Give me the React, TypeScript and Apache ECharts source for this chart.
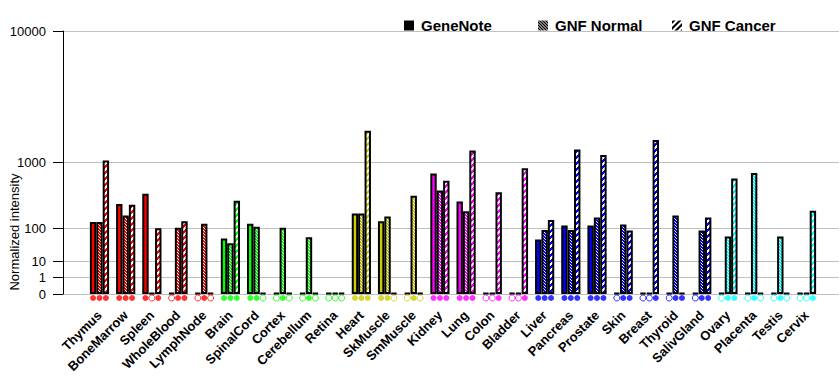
import React, { useEffect, useRef } from "react";
import * as echarts from "echarts";

const categories = [
  "Thymus", "BoneMarrow", "Spleen", "WholeBlood", "LymphNode",
  "Brain", "SpinalCord", "Cortex", "Cerebellum", "Retina",
  "Heart", "SkMuscle", "SmMuscle",
  "Kidney", "Lung", "Colon", "Bladder",
  "Liver", "Pancreas", "Prostate", "Skin", "Breast", "Thyroid", "SalivGland",
  "Ovary", "Placenta", "Testis", "Cervix",
];
// tissue group of each category (index into groupColors)
const categoryGroup = [0, 0, 0, 0, 0, 1, 1, 1, 1, 1, 2, 2, 2, 3, 3, 3, 3, 4, 4, 4, 4, 4, 4, 4, 5, 5, 5, 5];
const groupColors = ["#FF0000", "#00FF00", "#CCCC00", "#FF00FF", "#0000FF", "#00FFFF"];

const geneNote = [135, 285, 405, 0, 0, 57, 125, 0, 0, 0, 195, 140, 0, 750, 310, 0, 0, 54, 115, 115, 0, 0, 0, 0, 0, 0, 0, 0];
const gnfNormal = [135, 180, 0, 103, 125, 42, 108, 103, 61, 0, 195, 173, 380, 450, 215, 0, 0, 91, 91, 166, 120, 0, 180, 89, 64, 760, 64, 0];
const gnfCancer = [1050, 275, 100, 140, 0, 320, 0, 0, 0, 0, 2050, 0, 0, 610, 1340, 425, 860, 148, 1370, 1200, 89, 1690, 0, 166, 650, 0, 0, 220];

// presence markers under the bars (1 = filled, 0 = open)
const geneNoteMark = [1, 1, 1, 0, 0, 1, 1, 0, 0, 0, 1, 1, 0, 1, 1, 0, 0, 1, 1, 1, 0, 0, 0, 0, 0, 0, 0, 0];
const gnfNormalMark = [1, 1, 0, 1, 1, 1, 1, 1, 1, 0, 1, 1, 1, 1, 1, 0, 0, 1, 1, 1, 1, 0, 1, 1, 1, 1, 1, 0];
const gnfCancerMark = [1, 1, 1, 1, 0, 1, 0, 0, 0, 0, 1, 0, 0, 1, 1, 1, 1, 1, 1, 1, 1, 1, 1, 1, 1, 0, 0, 1];

const seriesNames = ["GeneNote", "GNF Normal", "GNF Cancer"];
const tickValues = [0, 1, 10, 100, 1000, 10000];
const tickLabels = ["0", "1", "10", "100", "1000", "10000"];

const tf = (v: number) => (v <= 0 ? 0 : Math.pow(v, Math.log10(2)));

const patternCache: Record<string, any> = {};
function makeFill(color: string, kind: number): any {
  if (kind === 0) return color;
  const key = color + kind;
  if (patternCache[key]) return patternCache[key];
  const size = kind === 1 ? 3 : 6;
  const c = document.createElement("canvas");
  c.width = size;
  c.height = size;
  const ctx = c.getContext("2d")!;
  ctx.fillStyle = "#FFFFFF";
  ctx.fillRect(0, 0, size, size);
  ctx.fillStyle = color;
  for (let x = 0; x < size; x++) {
    for (let y = 0; y < size; y++) {
      let on: boolean;
      if (kind === 1) on = (x - y + size) % size !== 0;
      else on = (x + y) % size < 3;
      if (on) ctx.fillRect(x, y, 1, 1);
    }
  }
  const p = { image: c, repeat: "repeat" };
  patternCache[key] = p;
  return p;
}

export default function App() {
  const ref = useRef<HTMLDivElement>(null);
  useEffect(() => {
    if (!ref.current) return;
    const chart = echarts.init(ref.current, null, { renderer: "svg" });
    const customValues = tickValues.map(tf);
    const valuesBySeries = [geneNote, gnfNormal, gnfCancer];
    const marksBySeries = [geneNoteMark, gnfNormalMark, gnfCancerMark];
    const barW = 6.4;
    const offsets = [-barW, 0, barW];
    const font = "Liberation Sans, Arial, sans-serif";

    const barSeries = valuesBySeries.map((vals, s) => ({
      name: seriesNames[s],
      type: "bar",
      xAxisIndex: 1,
      yAxisIndex: 1,
      barWidth: barW,
      barGap: "0%",
      barMinHeight: 1,
      itemStyle: { color: makeFill("#000000", s), borderColor: "#000", borderWidth: 2 },
      data: vals.map((v, i) => ({
        value: tf(v),
        itemStyle: { color: makeFill(groupColors[categoryGroup[i]], s), borderColor: "#000", borderWidth: 2 },
      })),
    }));

    const markSeries = marksBySeries.map((marks, s) => ({
      name: "mark" + s,
      type: "scatter",
      xAxisIndex: 1,
      yAxisIndex: 1,
      clip: false,
      symbol: "circle",
      symbolSize: 6,
      symbolOffset: [offsets[s], 4],
      silent: true,
      data: marks.map((m, i) => {
        const col = groupColors[categoryGroup[i]];
        return {
          value: [i, 0],
          itemStyle: m
            ? { color: col, borderWidth: 0 }
            : { color: "#FFFFFF", borderColor: col, borderWidth: 1 },
        };
      }),
    }));

    const legendLefts = [399, 533, 667];
    const legends = seriesNames.map((n, k) => ({
      data: [n],
      left: legendLefts[k],
      top: 13,
      itemWidth: 10,
      itemHeight: 10,
      icon: "rect",
      itemStyle: { borderWidth: 0 },
      textStyle: { fontFamily: font, fontSize: 15, fontWeight: "bold", color: "#000", padding: [0, 0, 0, 2] },
    }));

    chart.setOption({
      animation: false,
      backgroundColor: "#FFFFFF",
      legend: legends,
      grid: [
        { left: 63, top: 31, width: 776, height: 263 },
        { left: 86.4, top: 31, width: 733.2, height: 263 },
      ],
      xAxis: [
        { type: "value", gridIndex: 0, show: false, min: 0, max: 1 },
        {
          type: "category",
          gridIndex: 1,
          data: categories,
          axisLine: { show: false },
          axisTick: { show: false },
          axisLabel: {
            interval: 0,
            rotate: 45,
            margin: 19,
            fontFamily: font,
            fontSize: 13,
            fontWeight: "bold",
            color: "#000",
          },
        },
      ],
      yAxis: [
        {
          type: "value",
          gridIndex: 0,
          min: 0,
          max: customValues[customValues.length - 1],
          axisLine: { show: true, lineStyle: { color: "#000", width: 1 } },
          axisTick: { show: true, length: 10, customValues, lineStyle: { color: "#000" } },
          axisLabel: {
            customValues,
            margin: 17,
            fontFamily: font,
            fontSize: 13,
            color: "#000",
            formatter: (val: number) => {
              let best = 0;
              for (let k = 0; k < customValues.length; k++) {
                if (Math.abs(customValues[k] - val) < Math.abs(customValues[best] - val)) best = k;
              }
              return tickLabels[best];
            },
          },
          splitLine: { show: true, lineStyle: { color: "#C0C0C0", width: 1 } },
        },
        {
          type: "value",
          gridIndex: 1,
          min: 0,
          max: customValues[customValues.length - 1],
          show: false,
          splitLine: { show: false },
        },
      ],
      graphic: [
        {
          type: "text",
          x: 14,
          y: 232,
          rotation: Math.PI / 2,
          style: {
            text: "Normalized intensity",
            fontFamily: font,
            fontSize: 13,
            fill: "#000",
            textAlign: "center",
            textVerticalAlign: "middle",
          },
        },
      ],
      series: [...barSeries, ...markSeries],
    });
    return () => chart.dispose();
  }, []);
  return (
    <div
      ref={ref}
      style={{ position: "absolute", left: 0, top: 0, width: 840, height: 385 }}
    />
  );
}
